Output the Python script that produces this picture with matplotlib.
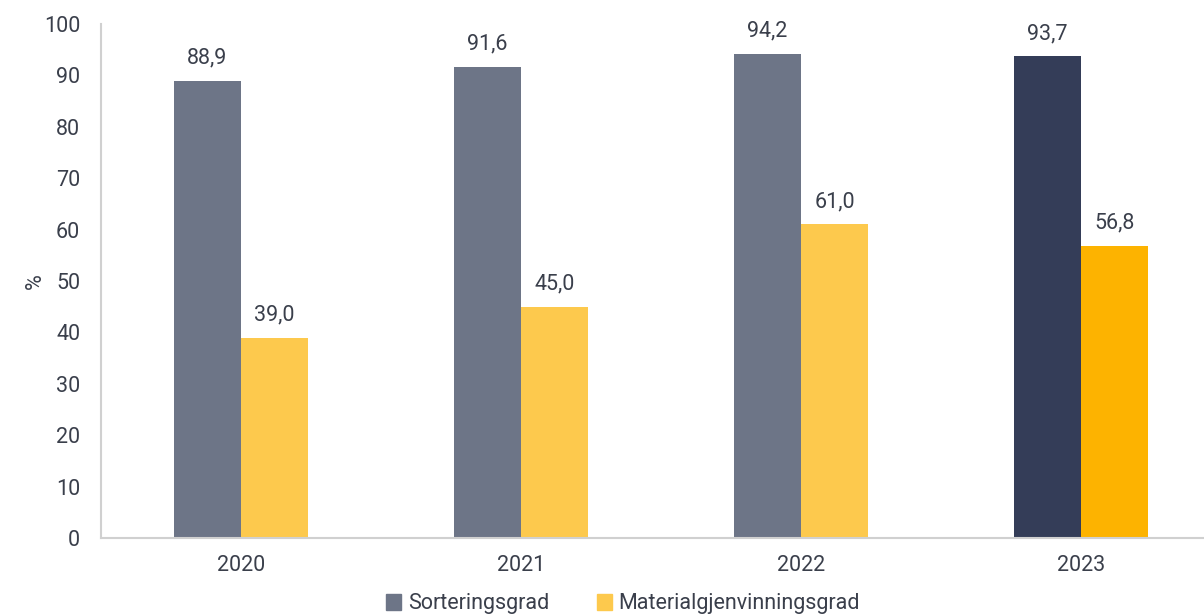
import matplotlib
matplotlib.use('Agg')
from matplotlib import pyplot as plt
from matplotlib.patches import Patch
import numpy as np

# data
years = ['2020', '2021', '2022', '2023']
sortering = [88.9, 91.6, 94.2, 93.7]
material = [39.0, 45.0, 61.0, 56.8]

grey_cols = ['#6d7587', '#6d7587', '#6d7587', '#343d58']
yellow_cols = ['#fdc94d', '#fdc94d', '#fdc94d', '#fdb300']
txt_col = '#3a3f4b'
spine_col = '#d0d0d0'

plt.rcParams['font.family'] = ['Roboto', 'DejaVu Sans']

fig = plt.figure(figsize=(12.04, 6.16), dpi=100)
ax = fig.add_axes([101/1204, 1 - 538/616, 1 - 101/1204, 514/616])

x = np.arange(len(years))
w = 0.24
b1 = ax.bar(x - w/2, sortering, w, color=grey_cols)
b2 = ax.bar(x + w/2, material, w, color=yellow_cols)

for bars, vals in ((b1, sortering), (b2, material)):
    for r, v in zip(bars, vals):
        ax.text(r.get_x() + r.get_width()/2, v + 2.4, '{0:.1f}'.format(v).replace('.', ','),
                ha='center', va='bottom', fontsize=15.5, color=txt_col)

ax.set_ylim(0, 100)
ax.set_xlim(-0.5, 3.44)
ax.set_yticks(range(0, 101, 10))
ax.set_xticks(x)
ax.set_xticklabels(years)
ax.tick_params(axis='both', length=0, labelsize=15.5, colors=txt_col)
ax.tick_params(axis='y', pad=15)
ax.tick_params(axis='x', pad=12)
for s in ('top', 'right'):
    ax.spines[s].set_visible(False)
for s in ('left', 'bottom'):
    ax.spines[s].set_color(spine_col)
    ax.spines[s].set_linewidth(1.5)
ax.set_ylabel('%', fontsize=15.5, color=txt_col)
ax.yaxis.set_label_coords(-0.05, 0.5)

handles = [Patch(color='#6d7587', label='Sorteringsgrad'),
           Patch(color='#fdc94d', label='Materialgjenvinningsgrad')]
fig.legend(handles=handles, loc='center', bbox_to_anchor=(623/1204, 1 - 604/616),
           ncol=2, frameon=False, fontsize=15.5, handlelength=0.7, handleheight=0.7,
           handletextpad=0.3, columnspacing=2.2, labelcolor=txt_col)

fig.savefig('out.png', dpi=100)
